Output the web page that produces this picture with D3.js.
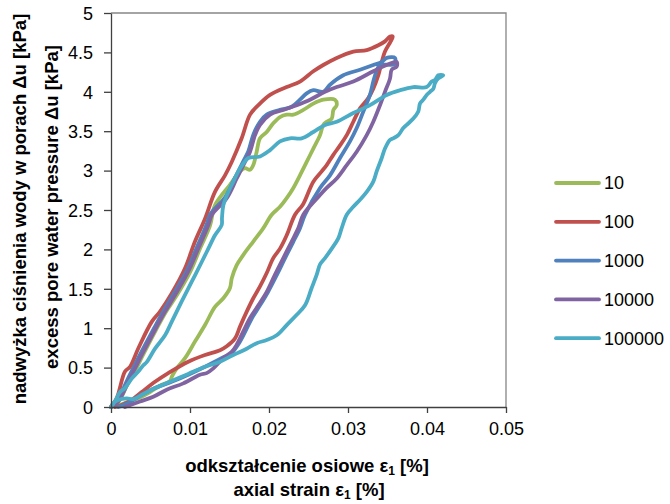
<!DOCTYPE html>
<html>
<head>
<meta charset="utf-8">
<script src="https://cdn.jsdelivr.net/npm/d3@7"></script>
<style>
  html, body { margin: 0; padding: 0; background: #fff; }
  svg { display: block; }
  text { font-family: "Liberation Sans", Arial, sans-serif; fill: #000; }
</style>
</head>
<body>
<svg id="chart" width="670" height="504"></svg>
<script>
// Loading / unloading loops: [axial strain %, excess pore pressure kPa]
const series10 = [
  [0,0],[0.00089,0.06],[0.00215,0.30],[0.00316,0.48],[0.00405,0.66],[0.0057,0.98],
  [0.00696,1.21],[0.00835,1.42],[0.01,1.71],[0.01127,2.01],[0.01253,2.30],[0.01316,2.56],
  [0.01506,2.82],[0.01633,2.99],[0.01696,3.03],[0.0176,3.01],[0.01801,3.07],[0.01844,3.24],
  [0.01886,3.41],[0.01971,3.49],[0.02054,3.60],[0.02139,3.68],[0.02224,3.71],[0.02308,3.71],
  [0.02434,3.77],[0.02561,3.85],[0.02687,3.90],[0.02835,3.90],[0.02857,3.83],
  [0.02815,3.77],[0.02794,3.66],[0.0273,3.62],[0.02687,3.58],[0.02646,3.45],[0.02561,3.28],
  [0.02477,3.11],[0.02392,2.94],[0.02308,2.78],[0.02224,2.65],[0.02139,2.54],[0.02034,2.44],
  [0.01928,2.27],[0.01801,2.10],[0.01675,1.93],[0.01591,1.80],[0.01528,1.63],[0.01506,1.51],
  [0.01422,1.38],[0.01316,1.27],[0.0119,1.04],[0.01063,0.83],[0.00937,0.62],[0.00832,0.49],
  [0.00772,0.39],[0.00747,0.33],[0.0062,0.27],[0.00494,0.19],[0.00342,0.11],[0.00177,0.05],
  [0.0005,0]
];
const series100 = [
  [0,0],[0.00072,0.11],[0.00177,0.45],[0.00241,0.51],[0.00346,0.745],[0.00515,1.08],
  [0.0062,1.21],[0.00768,1.44],[0.00937,1.76],[0.01063,2.10],[0.0119,2.39],[0.01316,2.73],
  [0.01443,2.94],[0.01528,3.11],[0.01654,3.41],[0.0176,3.71],[0.01865,3.83],[0.02013,3.96],
  [0.02224,4.06],[0.02392,4.13],[0.02561,4.26],[0.02687,4.34],[0.02857,4.43],[0.03067,4.51],
  [0.03237,4.53],[0.03384,4.59],[0.03468,4.64],[0.03532,4.70],[0.03566,4.70],
  [0.0354,4.64],[0.03468,4.51],[0.03427,4.38],[0.03384,4.21],[0.0332,4.04],[0.03257,3.92],
  [0.03152,3.79],[0.03067,3.62],[0.02984,3.45],[0.02899,3.32],[0.02814,3.20],[0.0273,3.07],
  [0.02667,2.99],[0.02561,2.86],[0.0243,2.57],[0.02329,2.44],[0.02224,2.18],[0.02139,2.01],
  [0.02054,1.89],[0.01971,1.70],[0.01886,1.53],[0.01801,1.38],[0.01718,1.21],[0.01633,1.02],
  [0.0157,0.87],[0.01465,0.77],[0.0138,0.72],[0.0119,0.66],[0.00978,0.575],[0.00725,0.43],
  [0.00557,0.32],[0.00389,0.19],[0.00262,0.09],[0.00135,0.025],[0.0005,0]
];
const series1000 = [
  [0,0],[0.0008,0.08],[0.002,0.33],[0.00285,0.50],[0.0037,0.67],[0.0054,0.99],
  [0.00665,1.22],[0.0079,1.43],[0.0096,1.73],[0.01085,2.02],[0.01212,2.32],[0.01258,2.45],
  [0.01445,2.66],[0.01571,2.91],[0.01676,3.12],[0.0174,3.25],[0.01803,3.46],[0.01886,3.62],
  [0.01971,3.71],[0.02139,3.77],[0.02287,3.81],[0.02392,3.90],[0.02477,3.98],[0.02561,4.02],
  [0.02687,4.00],[0.02772,4.09],[0.0294,4.21],[0.03152,4.28],[0.0332,4.34],[0.03427,4.38],
  [0.0349,4.43],[0.03595,4.43],[0.03582,4.35],[0.03405,4.34],[0.03367,4.28],
  [0.0332,4.13],[0.03278,3.96],[0.03194,3.75],[0.0311,3.54],[0.03025,3.37],[0.02899,3.16],
  [0.02772,2.94],[0.02646,2.78],[0.02456,2.44],[0.02392,2.27],[0.02304,2.09],[0.02203,1.89],
  [0.02101,1.68],[0.01987,1.46],[0.01886,1.29],[0.01785,1.13],[0.01696,0.95],[0.01608,0.79],
  [0.01506,0.66],[0.01443,0.64],[0.0119,0.51],[0.00978,0.41],[0.00768,0.32],[0.00557,0.24],
  [0.00346,0.13],[0.00219,0.05],[0.00092,0]
];
const series10000 = [
  [0,0],[0.00092,0.07],[0.00219,0.32],[0.00304,0.49],[0.00389,0.66],[0.00557,0.98],
  [0.00684,1.21],[0.0081,1.42],[0.00978,1.72],[0.01105,2.01],[0.01232,2.31],[0.01278,2.44],
  [0.01465,2.65],[0.01591,2.90],[0.01696,3.11],[0.0176,3.24],[0.01823,3.45],[0.01886,3.58],
  [0.02013,3.71],[0.02181,3.77],[0.02351,3.83],[0.02519,3.90],[0.02709,4.00],[0.02857,4.06],
  [0.03067,4.13],[0.0332,4.26],[0.0349,4.34],[0.03616,4.38],[0.03616,4.32],
  [0.03553,4.28],[0.03532,4.17],[0.03468,4.00],[0.03405,3.83],[0.0332,3.62],[0.03237,3.45],
  [0.0311,3.24],[0.02984,3.07],[0.02857,2.90],[0.0273,2.78],[0.02646,2.69],[0.02434,2.44],
  [0.02371,2.27],[0.02287,2.10],[0.02181,1.89],[0.02076,1.68],[0.01971,1.46],[0.01865,1.29],
  [0.0176,1.13],[0.01675,0.96],[0.01591,0.79],[0.01528,0.70],[0.01422,0.62],[0.01295,0.49],
  [0.01211,0.43],[0.01127,0.41],[0.00915,0.30],[0.00705,0.22],[0.00535,0.13],[0.00367,0.07],
  [0.00177,0]
];
const series100000 = [
  [0,0],[0.0005,0.07],[0.00114,0.19],[0.00177,0.24],[0.00262,0.36],[0.00346,0.45],
  [0.00409,0.53],[0.00452,0.57],[0.00557,0.74],[0.00684,0.91],[0.00768,1.08],[0.00895,1.34],
  [0.01022,1.59],[0.01148,1.84],[0.01232,2.01],[0.01316,2.18],[0.01401,2.31],[0.01405,2.40],
  [0.01422,2.56],[0.01485,2.73],[0.01548,2.86],[0.01611,2.99],[0.01675,3.09],[0.01738,3.16],
  [0.01886,3.18],[0.02013,3.26],[0.02139,3.37],[0.02266,3.41],[0.02414,3.41],[0.02561,3.49],
  [0.02709,3.58],[0.02857,3.62],[0.03067,3.73],[0.03278,3.83],[0.0349,3.96],[0.03658,4.02],
  [0.03827,4.06],[0.03996,4.06],[0.04059,4.13],[0.04101,4.15],[0.04143,4.21],[0.04206,4.21],
  [0.04143,4.17],[0.04101,4.11],[0.0408,4.04],[0.04038,4.00],[0.03996,3.96],[0.03953,3.90],
  [0.03911,3.85],[0.0389,3.75],[0.03827,3.66],[0.03743,3.58],[0.037,3.54],[0.03637,3.45],
  [0.03573,3.41],[0.03532,3.39],[0.03468,3.28],[0.03427,3.16],[0.03363,2.99],[0.0332,2.86],
  [0.03237,2.73],[0.03152,2.63],[0.03067,2.54],[0.02984,2.44],[0.0292,2.27],[0.02877,2.14],
  [0.02794,2.01],[0.02709,1.89],[0.02646,1.81],[0.02604,1.68],[0.0254,1.51],[0.02456,1.29],
  [0.02351,1.17],[0.02224,1.04],[0.02097,0.91],[0.01971,0.85],[0.01844,0.81],[0.01718,0.74],
  [0.01548,0.66],[0.0138,0.575],[0.0119,0.51],[0.00978,0.42],[0.00768,0.33],[0.00557,0.24],
  [0.00409,0.165],[0.00282,0.10],[0.00199,0.11],[0.00092,0.09],[0.00029,0.05],[0,0]
];

const seriesNames = ["10", "100", "1000", "10000", "100000"];
const seriesColors = ["#9BBB59", "#C0504D", "#4F81BD", "#8064A2", "#4BACC6"];
const seriesData = [series10, series100, series1000, series10000, series100000];

const xTicks = [0, 0.01, 0.02, 0.03, 0.04, 0.05];
const xTickLabels = ["0", "0.01", "0.02", "0.03", "0.04", "0.05"];
const yTicks = [0, 0.5, 1, 1.5, 2, 2.5, 3, 3.5, 4, 4.5, 5];
const yTickLabels = ["0", "0.5", "1", "1.5", "2", "2.5", "3", "3.5", "4", "4.5", "5"];

const svg = d3.select("#chart");
const plot = { left: 111, right: 506, top: 13, bottom: 407 };

const x = d3.scaleLinear().domain([0, 0.05]).range([plot.left, plot.right]);
const y = d3.scaleLinear().domain([0, 5]).range([plot.bottom, plot.top]);

// plot-area frame (top and right edges)
svg.append("path")
  .attr("d", `M${plot.left},${plot.top}H${plot.right}V${plot.bottom}`)
  .attr("fill", "none").attr("stroke", "#868686").attr("stroke-width", 1.3);

// data loops
const line = d3.line()
  .x(d => x(d[0])).y(d => y(d[1]))
  .curve(d3.curveCatmullRom.alpha(0.5));

const gLines = svg.append("g");
seriesData.forEach((data, i) => {
  gLines.append("path")
    .datum(data)
    .attr("d", line)
    .attr("fill", "none")
    .attr("stroke", seriesColors[i])
    .attr("stroke-width", 3.8)
    .attr("stroke-linejoin", "round")
    .attr("stroke-linecap", "round");
});

// axes
const xAxis = d3.axisBottom(x).tickValues(xTicks)
  .tickFormat((d, i) => xTickLabels[i]).tickSize(6).tickSizeOuter(0);
const yAxis = d3.axisLeft(y).tickValues(yTicks)
  .tickFormat((d, i) => yTickLabels[i]).tickSize(7).tickSizeOuter(0);

const gx = svg.append("g").attr("transform", `translate(0,${plot.bottom})`).call(xAxis);
const gy = svg.append("g").attr("transform", `translate(${plot.left},0)`).call(yAxis);

[gx, gy].forEach(g => {
  g.select(".domain").attr("stroke", "#404040").attr("stroke-width", 1.3);
  g.selectAll(".tick line").attr("stroke", "#404040").attr("stroke-width", 1.3);
  g.selectAll(".tick text")
    .attr("font-family", "'Liberation Sans', Arial, sans-serif")
    .attr("font-size", 18).attr("fill", "#000");
});
gx.selectAll(".tick text").attr("dy", null).attr("y", 28);
gy.selectAll(".tick text").attr("x", -18).attr("dy", "0.35em");

// axis titles
function titleWithSub(sel, pre, sub, post) {
  sel.append("tspan").text(pre);
  sel.append("tspan").text(sub).attr("font-size", 12).attr("dy", 3);
  sel.append("tspan").text(post).attr("dy", -3);
}
const xTitle1 = svg.append("text").attr("x", 307).attr("y", 472)
  .attr("text-anchor", "middle").attr("font-weight", "bold").attr("font-size", 18.5);
titleWithSub(xTitle1, "odkształcenie osiowe ε", "1", " [%]");
const xTitle2 = svg.append("text").attr("x", 309).attr("y", 496)
  .attr("text-anchor", "middle").attr("font-weight", "bold").attr("font-size", 18.5);
titleWithSub(xTitle2, "axial strain ε", "1", " [%]");

svg.append("text")
  .attr("transform", "translate(26,209) rotate(-90)")
  .attr("text-anchor", "middle").attr("font-weight", "bold").attr("font-size", 18.5)
  .text("nadwyżka ciśnienia wody w porach Δu [kPa]");
svg.append("text")
  .attr("transform", "translate(58,207) rotate(-90)")
  .attr("text-anchor", "middle").attr("font-weight", "bold").attr("font-size", 18.5)
  .text("excess pore water pressure Δu [kPa]");

// legend
const legend = svg.append("g");
seriesNames.forEach((name, i) => {
  const ly = 183 + i * 38.8;
  legend.append("line")
    .attr("x1", 556).attr("x2", 599).attr("y1", ly).attr("y2", ly)
    .attr("stroke", seriesColors[i]).attr("stroke-width", 3.8).attr("stroke-linecap", "round");
  legend.append("text").attr("x", 604).attr("y", ly).attr("dy", "0.35em")
    .attr("font-size", 18).text(name);
});
</script>
</body>
</html>
